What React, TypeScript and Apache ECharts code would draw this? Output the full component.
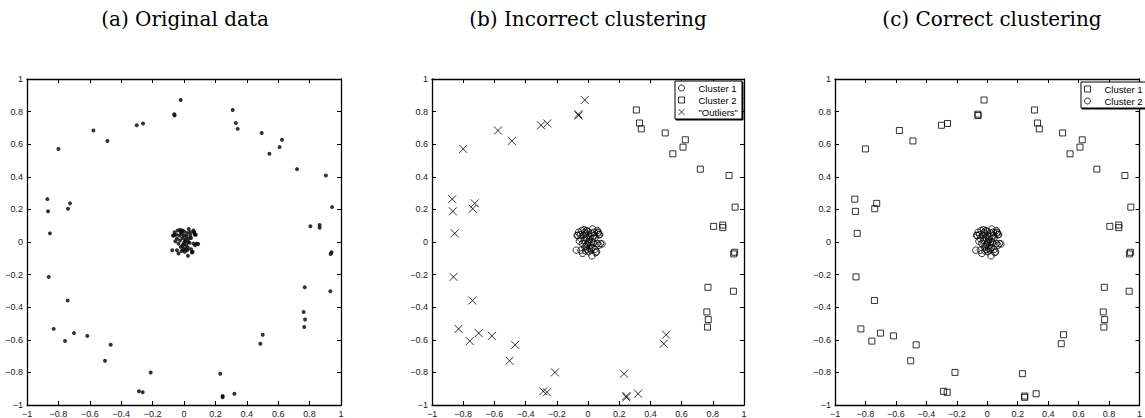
import React, { useEffect, useRef } from "react";
import * as echarts from "echarts";

type Pt = [number, number];

// Tight blob of points around the origin
const coreCluster: Pt[] = [
  [0.03, 0.08], [-0.04, 0.07], [-0.01, 0.07], [0.06, 0.07], [0.065, 0.06],
  [-0.065, 0.04], [-0.02, 0.06], [0.02, 0.055], [0.065, 0.055], [0.07, 0.045],
  [-0.05, 0.045], [-0.03, 0.04], [0.0, 0.04], [0.04, 0.04], [0.075, 0.045],
  [-0.07, 0.04], [-0.01, 0.025], [0.01, 0.015], [-0.025, 0.01], [-0.055, 0.005],
  [0.025, 0.0], [0.06, -0.01], [0.08, -0.01], [0.09, -0.012], [0.07, -0.02],
  [-0.035, -0.01], [0.0, -0.005], [0.015, -0.02], [-0.01, -0.025], [-0.02, -0.03],
  [0.01, -0.04], [0.025, -0.035], [-0.045, -0.05], [-0.005, -0.045], [0.055, -0.06],
  [0.05, -0.065], [-0.075, -0.05], [-0.035, -0.07], [0.025, -0.085], [0.005, 0.005],
  [0.03, 0.02], [-0.015, 0.05], [0.045, 0.025], [0.0, 0.065], [-0.045, 0.02],
  [0.035, -0.005], [-0.005, -0.015], [0.015, 0.035], [0.04, 0.06], [-0.025, 0.075],
  [0.005, -0.06], [0.045, -0.045], [-0.06, 0.06], [0.02, -0.05], [-0.015, -0.055],
];

// Ring points on the upper-right / right arc
const ringEast: Pt[] = [
  [0.31, 0.81], [0.33, 0.73], [0.342, 0.694], [0.495, 0.669], [0.624, 0.627],
  [0.609, 0.582], [0.544, 0.541], [0.72, 0.447], [0.904, 0.408], [0.943, 0.214],
  [0.805, 0.096], [0.864, 0.104], [0.864, 0.088], [0.94, -0.063], [0.934, -0.073],
  [0.932, -0.302], [0.769, -0.278], [0.762, -0.429], [0.771, -0.476], [0.766, -0.522],
];

// Remaining ring points
const ringRest: Pt[] = [
  [-0.021, 0.871], [-0.062, 0.784], [-0.06, 0.776], [0.501, -0.569], [0.486, -0.624],
  [0.321, -0.931], [0.246, -0.945], [0.246, -0.953], [0.231, -0.808], [-0.212, -0.8],
  [-0.287, -0.916], [-0.263, -0.922], [-0.503, -0.729], [-0.467, -0.631], [-0.616, -0.576],
  [-0.701, -0.559], [-0.758, -0.608], [-0.83, -0.533], [-0.741, -0.359], [-0.862, -0.214],
  [-0.854, 0.053], [-0.866, 0.188], [-0.87, 0.263], [-0.739, 0.204], [-0.726, 0.237],
  [-0.8, 0.571], [-0.577, 0.684], [-0.488, 0.62], [-0.301, 0.716], [-0.261, 0.727],
];

const tickLabels = ["−1", "−0.8", "−0.6", "−0.4", "−0.2", "0", "0.2", "0.4", "0.6", "0.8", "1"];

const panelTitles = ["(a) Original data", "(b) Incorrect clustering", "(c) Correct clustering"];
const legendB = ["Cluster 1", "Cluster 2", "\"Outliers\""];
const legendC = ["Cluster 1", "Cluster 2"];

const SANS = "'Liberation Sans', Arial, Helvetica, sans-serif";
const SERIF = "'DejaVu Serif', serif";
const CROSS = "path://M0,0L10,10M10,0L0,10";

const fmt = (v: number) => tickLabels[Math.round((v + 1) / 0.2)] ?? "";

function buildAxes() {
  const line = { show: true, onZero: false, lineStyle: { color: "#000", width: 1.3 } };
  const tick = { show: true, inside: true, length: 4, lineStyle: { color: "#000", width: 1 } };
  const base = { type: "value" as const, min: -1, max: 1, interval: 0.2, splitLine: { show: false }, axisLine: line, axisTick: tick };
  const label = { fontSize: 9, fontFamily: SANS, color: "#222", formatter: fmt };
  return {
    xAxis: [
      { ...base, position: "bottom", axisLabel: { ...label, margin: 4 } },
      { ...base, position: "top", axisLabel: { show: false } },
    ],
    yAxis: [
      { ...base, position: "left", axisLabel: { ...label, margin: 4 } },
      { ...base, position: "right", axisLabel: { show: false } },
    ],
  };
}

const hollow = { color: "rgba(0,0,0,0)", borderColor: "#000", borderWidth: 1 };

function legendBox(left: number, top: number, names: string[]) {
  return {
    orient: "vertical",
    left,
    top,
    data: names,
    itemWidth: 6,
    itemHeight: 6,
    itemGap: 2,
    padding: [2, 4, 2, 3],
    borderColor: "#000",
    borderWidth: 1,
    backgroundColor: "#fff",
    shadowColor: "#000",
    shadowOffsetX: 1,
    shadowOffsetY: 1,
    shadowBlur: 0,
    selectedMode: false,
    itemStyle: { borderWidth: 1 },
    textStyle: { fontSize: 9.5, fontFamily: SANS, color: "#000", lineHeight: 10, padding: [0, 0, 0, 9] },
  };
}

function titleAt(text: string, cx: number) {
  return {
    text,
    left: cx,
    top: 4,
    textAlign: "center",
    textStyle: { fontFamily: SERIF, fontSize: 20, fontWeight: "normal", color: "#000" },
  };
}

const gridAt = (left: number, width: number) => ({ left, top: 79, width, height: 327 });

const optionA = {
  animation: false,
  title: titleAt(panelTitles[0], 180),
  grid: gridAt(27, 314),
  ...buildAxes(),
  series: [
    {
      type: "scatter",
      name: "data",
      symbol: "circle",
      symbolSize: 4,
      itemStyle: { color: "#000" },
      data: [...ringEast, ...ringRest, ...coreCluster],
    },
  ],
};

const optionB = {
  animation: false,
  title: titleAt(panelTitles[1], 201),
  grid: gridAt(50, 312),
  ...buildAxes(),
  legend: legendBox(293, 81, legendB),
  series: [
    { type: "scatter", name: legendB[0], symbol: "circle", symbolSize: 6.5, itemStyle: hollow, data: coreCluster },
    { type: "scatter", name: legendB[1], symbol: "rect", symbolSize: 6, itemStyle: hollow, data: ringEast },
    { type: "scatter", name: legendB[2], symbol: CROSS, symbolSize: 8, itemStyle: hollow, data: ringRest },
  ],
};

const optionC = {
  animation: false,
  title: titleAt(panelTitles[2], 223),
  grid: gridAt(71, 314),
  ...buildAxes(),
  legend: legendBox(317, 82, legendC),
  series: [
    { type: "scatter", name: legendC[0], symbol: "rect", symbolSize: 6, itemStyle: hollow, data: [...ringEast, ...ringRest] },
    { type: "scatter", name: legendC[1], symbol: "circle", symbolSize: 6.5, itemStyle: hollow, data: coreCluster },
  ],
};

function Panel({ left, width, option }: { left: number; width: number; option: any }) {
  const ref = useRef<HTMLDivElement>(null);
  useEffect(() => {
    if (!ref.current) return;
    const chart = echarts.init(ref.current, undefined, { renderer: "svg" });
    chart.setOption(option);
    return () => chart.dispose();
  }, [option]);
  return (
    <div
      ref={ref}
      style={{ position: "absolute", left, top: 0, width, height: 418, overflow: "hidden" }}
    />
  );
}

export default function App() {
  return (
    <div style={{ position: "fixed", left: 0, top: 0, width: 1145, height: 418, background: "#fff" }}>
      <Panel left={0} width={382} option={optionA} />
      <Panel left={382} width={382} option={optionB} />
      <Panel left={764} width={381} option={optionC} />
    </div>
  );
}
